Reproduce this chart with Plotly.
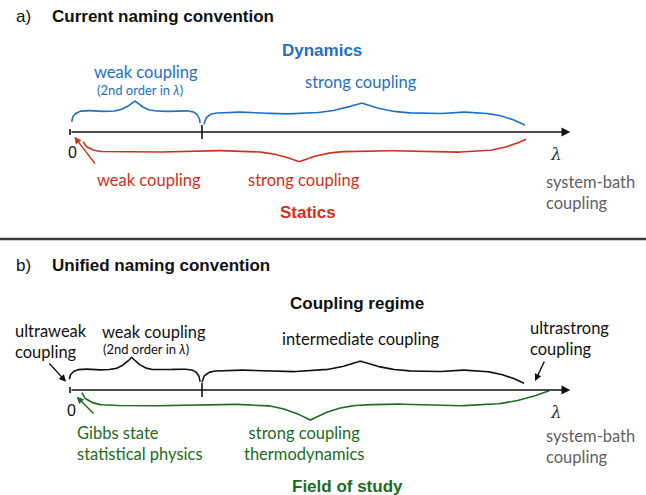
import numpy as np
import plotly.graph_objects as go

# ---------------- data ----------------
lam_ticks = [0.0, 1.0]            # tick marks on the coupling axis
lam_axis_end = 3.79               # arrow tip of the lambda axis
zero_label = "0"
axis_symbol = "<i>λ</i>"
axis_caption = "system-bath<br>coupling"

panel_tags = ["a)", "b)"]
panel_titles = ["Current naming convention", "Unified naming convention"]

# panel a: dynamics (above the axis)
dyn_title = "Dynamics"
dyn_labels = ["weak coupling", "strong coupling"]
dyn_sublabel = "(2nd order in <i>λ</i>)"
dyn_starts = [0.013, 1.015]
dyn_ends = [0.985, 3.447]
dyn_peaks = [0.49, 2.205]

# panel a: statics (below the axis)
stat_title = "Statics"
stat_labels = ["weak coupling", "strong coupling"]
stat_point = 0.033
stat_starts = [0.10]
stat_ends = [3.455]
stat_peaks = [1.735]

# panel b: coupling regime (above the axis)
regime_title = "Coupling regime"
regime_labels = ["ultraweak<br>coupling", "weak coupling", "intermediate coupling", "ultrastrong<br>coupling"]
regime_sublabel = "(2nd order in <i>λ</i>)"
ultraweak_point = -0.03
ultrastrong_point = 3.523
regime_starts = [-0.005, 1.0]
regime_ends = [0.985, 3.44]
regime_peaks = [0.467, 2.2]

# panel b: field of study (below the axis)
field_title = "Field of study"
field_labels = ["Gibbs state<br>statistical physics", "strong coupling<br>thermodynamics"]
field_point = 0.051
field_starts = [0.09]
field_ends = [3.63]
field_peaks = [1.82]

# ---------------- style ----------------
W, H = 646, 495
PX = 1 / 132.0                    # lambda units per pixel
X_LO = -70 * PX
X_HI = (W - 70) * PX

BLUE = "#1f6fc4"
RED = "#d0301e"
GREEN = "#1e6b22"
BLACK = "#111111"
GRAY = "#5f6165"
BOLD = "Liberation Sans, Arial, sans-serif"
HUM = "Lato, Open Sans, sans-serif"

AXIS_Y = [132, 390]


def brace(x0, x1, xp, ye0, ye1, yflat, ypeak, c0, c1, e0, e1, appr, amp, n=160):
    sgn = np.sign(yflat - (ye0 + ye1) / 2)

    def half(xe, ye, c, e):
        L = xp - xe
        u = np.linspace(0, 1, n)
        a = c / abs(L)
        b = appr / abs(L)
        y = np.empty_like(u)
        for i, uu in enumerate(u):
            if uu < a:
                s = uu / a
                y[i] = ye + (yflat - ye) * (1 - (1 - s) ** 2) ** e
            elif uu < 1 - b:
                s = (uu - a) / (1 - a - b)
                y[i] = yflat + sgn * amp * np.sin(2 * np.pi * s)
            else:
                s = (uu - (1 - b)) / b
                y[i] = yflat + (ypeak - yflat) * s ** 2
        return xe + u * L, y

    xl, yl = half(x0, ye0, c0, e0)
    xr, yr = half(x1, ye1, c1, e1)
    return np.concatenate([xl, xr[::-1]]), np.concatenate([yl, yr[::-1]])


fig = go.Figure()


def add_brace(x0, x1, xp, ye0, ye1, yflat, ypeak, c0, c1, e0, e1, appr, amp, color):
    bx, by = brace(x0, x1, xp, ye0, ye1, yflat, ypeak, c0, c1, e0, e1, appr, amp)
    fig.add_trace(go.Scatter(x=bx, y=by, mode="lines", line=dict(color=color, width=1.6),
                             hoverinfo="skip", showlegend=False))


# --- panel a braces ---
add_brace(dyn_starts[0], dyn_ends[0], dyn_peaks[0], 121.7, 123, 111, 100.7,
          11 * PX, 11 * PX, 0.5, 0.5, 22 * PX, 0.4, BLUE)
add_brace(dyn_starts[1], dyn_ends[1], dyn_peaks[1], 124.3, 125, 113, 102.7,
          13 * PX, 48 * PX, 0.5, 1.0, 55 * PX, 0.9, BLUE)
add_brace(stat_starts[0], stat_ends[0], stat_peaks[0], 141.7, 139.3, 151.5, 161.7,
          20 * PX, 52 * PX, 0.6, 1.0, 50 * PX, 0.9, RED)

# --- panel b braces ---
add_brace(regime_starts[0], regime_ends[0], regime_peaks[0], 379.3, 381.7, 369.5, 357.3,
          11 * PX, 11 * PX, 0.5, 0.5, 22 * PX, 0.4, BLACK)
add_brace(regime_starts[1], regime_ends[1], regime_peaks[1], 382.3, 383.3, 371, 361,
          14 * PX, 48 * PX, 0.5, 1.0, 55 * PX, 0.9, BLACK)
add_brace(field_starts[0], field_ends[0], field_peaks[0], 392.7, 390.7, 405, 420,
          24 * PX, 72 * PX, 0.6, 1.0, 55 * PX, 0.9, GREEN)

# --- ticks ---
for ay in AXIS_Y:
    tx, ty = [], []
    for t in lam_ticks:
        half_len = 3 if t == 0 else 7
        tx += [t, t, None]
        ty += [ay - half_len, ay + half_len, None]
    fig.add_trace(go.Scatter(x=tx, y=ty, mode="lines", line=dict(color=BLACK, width=1.6),
                             hoverinfo="skip", showlegend=False))

ann = []


def text(s, x, y, size, color, font=HUM, xanchor="center", align="center"):
    ann.append(dict(text=s, x=x / W, y=y, xref="paper", yref="y", showarrow=False,
                    xanchor=xanchor, yanchor="middle", align=align,
                    font=dict(family=font, size=size, color=color)))


def arrow(xl, y, dx, dy, color, width=1.4, size=1.0):
    ann.append(dict(text="", x=xl, y=y, xref="x", yref="y", ax=dx, ay=dy,
                    showarrow=True, arrowhead=2, arrowsize=size, arrowwidth=width,
                    arrowcolor=color, standoff=0))


# axes
for ay in AXIS_Y:
    ann.append(dict(text="", x=lam_axis_end, y=ay, xref="x", yref="y",
                    ax=lam_ticks[0], ay=ay, axref="x", ayref="y",
                    showarrow=True, arrowhead=2, arrowsize=1.1, arrowwidth=1.6,
                    arrowcolor=BLACK, standoff=0))

# pointer arrows
arrow(stat_point, 136.7, 21.7, 28.3, RED)
arrow(ultraweak_point, 381.7, -18, -19.7, BLACK)
arrow(ultrastrong_point, 381, 10, -21, BLACK)
arrow(field_point, 396.7, 18.3, 18.3, GREEN)

REG = "Liberation Sans, Arial"

# --- panel a text ---
text(panel_tags[0], 14, 16, 17, BLACK, REG, "left")
text("<b>%s</b>" % panel_titles[0], 50, 16, 17, BLACK, BOLD, "left")
text("<b>%s</b>" % dyn_title, 322, 50, 17, BLUE, BOLD)
text(dyn_labels[0], 146, 72, 16.5, BLUE)
text(dyn_sublabel, 139.5, 90, 13, BLUE)
text(dyn_labels[1], 360.5, 82, 16.5, BLUE)
text(zero_label, 72, 152, 16, BLACK, REG)
text(stat_labels[0], 148.7, 180, 16.5, RED)
text(stat_labels[1], 303.8, 180, 16.5, RED)
text("<b>%s</b>" % stat_title, 308, 212, 17, RED, BOLD)
text(axis_symbol, 556, 154, 17, "#333333", "DejaVu Serif")
text(axis_caption, 544, 192, 16.5, GRAY, HUM, "left", "left")

# --- panel b text ---
text(panel_tags[1], 14, 265, 17, BLACK, REG, "left")
text("<b>%s</b>" % panel_titles[1], 50, 265, 17, BLACK, BOLD, "left")
text("<b>%s</b>" % regime_title, 357, 303, 17, BLACK, BOLD)
text(regime_labels[0], 12.7, 341.7, 16.5, BLACK, HUM, "left", "left")
text(regime_labels[1], 100, 331.7, 16.5, BLACK, HUM, "left")
text(regime_sublabel, 101, 349, 13, BLACK, HUM, "left")
text(regime_labels[2], 361, 339, 16.5, BLACK)
text(regime_labels[3], 528, 338, 16.5, BLACK, HUM, "left", "left")
text(zero_label, 71, 410, 16, BLACK, REG)
text(axis_symbol, 556, 412, 17, "#333333", "DejaVu Serif")
text(axis_caption, 544, 446, 16.5, GRAY, HUM, "left", "left")
text(field_labels[0], 75, 443, 16.5, GREEN, HUM, "left", "left")
text(field_labels[1], 303.5, 443, 16.5, GREEN)
text("<b>%s</b>" % field_title, 347, 486, 17, GREEN, BOLD)

fig.update_layout(
    width=W, height=H, margin=dict(l=0, r=0, t=0, b=0),
    paper_bgcolor="white", plot_bgcolor="white",
    xaxis=dict(range=[X_LO, X_HI], visible=False, fixedrange=True),
    yaxis=dict(range=[H, 0], visible=False, fixedrange=True),
    annotations=ann,
    shapes=[dict(type="line", xref="paper", yref="y", x0=0, x1=1, y0=239, y1=239,
                 line=dict(color="#3a3a3a", width=2.5))],
    showlegend=False,
)

fig.write_html("out.html", config={"displayModeBar": False},
               post_script="document.body.style.margin='0';document.body.style.overflow='hidden';")
